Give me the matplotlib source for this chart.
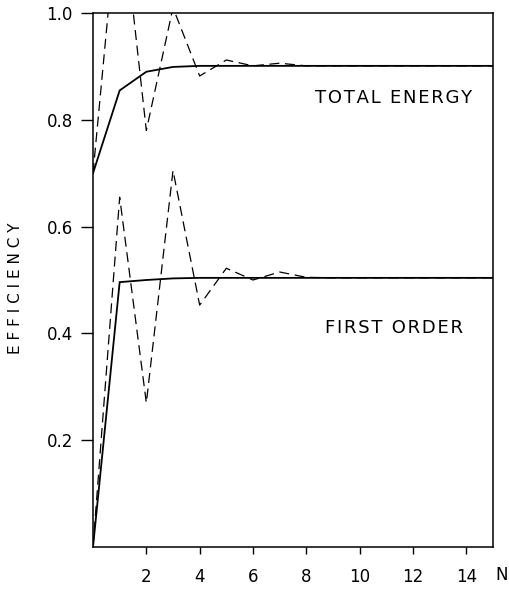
import matplotlib
matplotlib.use("Agg")
import matplotlib.pyplot as plt

N = list(range(0, 16))
total_solid = [0.70, 0.855, 0.89, 0.899, 0.901, 0.901, 0.901, 0.901, 0.901,
               0.901, 0.901, 0.901, 0.901, 0.901, 0.901, 0.901]
total_dashed = [0.70, 1.23, 0.78, 1.01, 0.882, 0.912, 0.901, 0.906, 0.901,
                0.901, 0.901, 0.901, 0.901, 0.901, 0.901, 0.901]
first_solid = [0.0, 0.496, 0.500, 0.503, 0.504, 0.504, 0.504, 0.504, 0.504,
               0.504, 0.504, 0.504, 0.504, 0.504, 0.504, 0.504]
first_dashed = [0.0, 0.655, 0.27, 0.705, 0.453, 0.522, 0.50, 0.515, 0.505,
                0.504, 0.504, 0.504, 0.504, 0.504, 0.504, 0.504]

xticks = [2, 4, 6, 8, 10, 12, 14]
yticks = [0.2, 0.4, 0.6, 0.8, 1.0]

fig = plt.figure(figsize=(5.09, 5.91), dpi=100)
ax = fig.add_axes([93/509, 1-547/591, 400/509, 534/591])

ax.plot(N, total_solid, color='black', lw=1.3, solid_joinstyle='miter')
ax.plot(N, first_solid, color='black', lw=1.3, solid_joinstyle='miter')
ax.plot(N, total_dashed, color='black', lw=0.9, dashes=(8, 4.5))
ax.plot(N, first_dashed, color='black', lw=0.9, dashes=(8, 4.5))

ax.set_xlim(0, 15)
ax.set_ylim(0, 1.0)
ax.set_xticks(xticks)
ax.set_yticks(yticks)
ax.set_xticklabels([str(v) for v in xticks])
ax.set_yticklabels([f"{v:.1f}" for v in yticks])
ax.tick_params(direction='out', width=1, labelsize=12, top=False, right=False)
ax.tick_params(axis='x', length=5, pad=10)
ax.tick_params(axis='y', length=8.5, pad=6)
for s in ax.spines.values():
    s.set_linewidth(1.1)

hs = "\u200a"
ax.text(14.2, 0.84, hs.join("TOTAL ENERGY"), ha='right', va='center', fontsize=13)
ax.text(13.87, 0.41, hs.join("FIRST ORDER"), ha='right', va='center', fontsize=13)

ax.text(15.33, -0.053, "N", ha='center', va='center', fontsize=12,
        clip_on=False)
fig.text(16/509, 1-288/591, "E F F I C I E N C Y", rotation=90,
         ha='center', va='center', fontsize=11)

fig.savefig("out.png", dpi=100)
